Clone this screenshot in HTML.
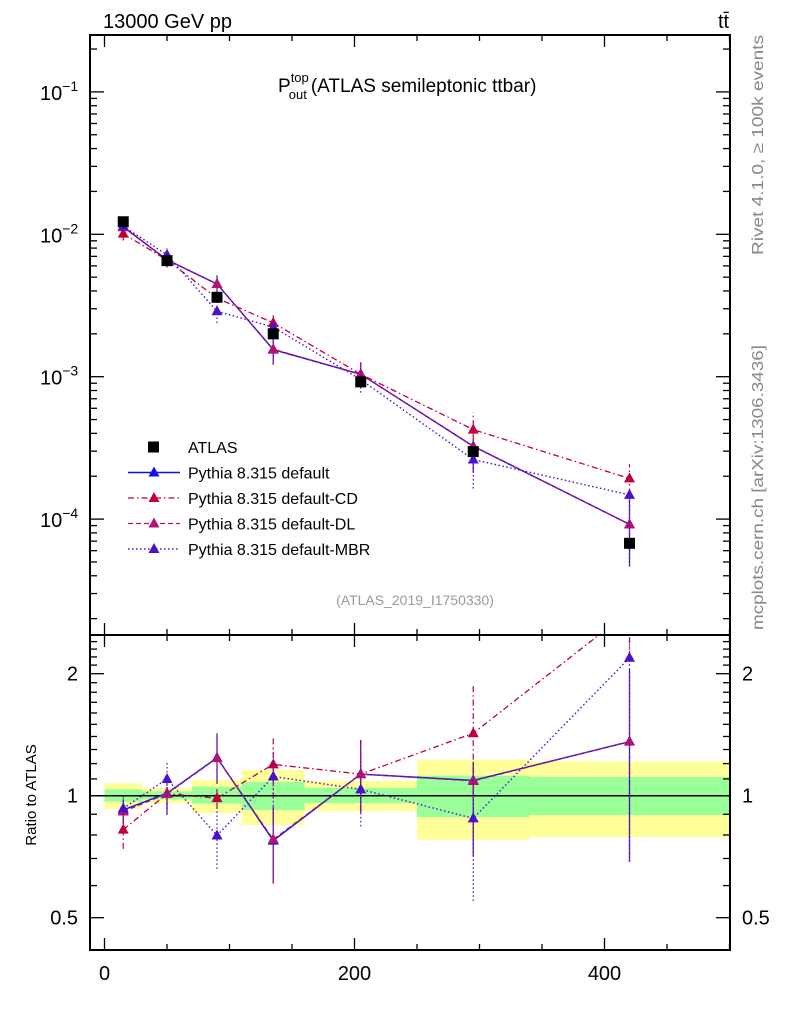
<!DOCTYPE html>
<html><head><meta charset="utf-8"><style>
body{margin:0;background:#fff}
svg{display:block;font-family:"Liberation Sans",sans-serif}
</style></head><body>
<svg id="chart" width="786" height="1024" viewBox="0 0 786 1024">
<text x="103" y="28" font-size="20">13000 GeV pp</text>
<text x="718" y="28" font-size="20">tt̄</text>
<text x="278" y="92" font-size="19">P<tspan font-size="13" dy="-10">top</tspan><tspan font-size="13" dx="-20" dy="17">out</tspan><tspan dy="-7" dx="4">(ATLAS semileptonic ttbar)</tspan></text>
<text transform="translate(763,255) rotate(-90)" font-size="16" fill="#888" textLength="220" lengthAdjust="spacingAndGlyphs">Rivet 4.1.0, ≥ 100k events</text>
<text transform="translate(763,630) rotate(-90)" font-size="16" fill="#888" textLength="285" lengthAdjust="spacingAndGlyphs">mcplots.cern.ch [arXiv:1306.3436]</text>
<text x="415" y="605" font-size="14" fill="#999" text-anchor="middle">(ATLAS_2019_I1750330)</text>
<text transform="translate(36,795) rotate(-90)" font-size="15" text-anchor="middle">Ratio to ATLAS</text>
<g id="g"></g>
</svg>
<script>
const binEdges=[0,30,70,110,160,250,340,500];
const xCenters=[15,50,90,135,205,295,420];
const dataVals=[1.225e-2,6.53e-3,3.61e-3,2.0e-3,9.2e-4,2.98e-4,6.76e-5];
const bandOuterLo=[0.927,0.959,0.906,0.847,0.917,0.779,0.79];
const bandOuterHi=[1.073,1.045,1.093,1.157,1.087,1.227,1.215];
const bandInnerLo=[0.966,0.979,0.956,0.922,0.959,0.886,0.896];
const bandInnerHi=[1.037,1.025,1.052,1.081,1.045,1.12,1.112];
const defVals=[1.13e-2,6.62e-3,4.48e-3,1.55e-3,1.04e-3,3.25e-4,9.19e-5];
const defErrLo=[0.85,0.896,1.07,0.607,0.908,0.71,0.687];
const defErrHi=[0.98,1.05,1.425,0.94,1.372,1.213,2.05];
const cdVals=[1.01e-2,6.6e-3,3.56e-3,2.39e-3,1.04e-3,4.25e-4,1.93e-4];
const cdErrLo=[0.739,0.93,0.93,0.985,0.908,0.975,2.2];
const cdErrHi=[0.887,1.08,1.05,1.41,1.372,1.89,3.6];
const dlVals=[1.12e-2,6.6e-3,4.47e-3,1.56e-3,1.04e-3,3.24e-4,9.2e-5];
const dlErrLo=[0.85,0.896,1.07,0.607,0.908,0.71,0.687];
const dlErrHi=[0.98,1.05,1.425,0.94,1.372,1.213,2.05];
const mbrVals=[1.14e-2,7.18e-3,2.88e-3,2.23e-3,9.54e-4,2.62e-4,1.48e-4];
const mbrErrLo=[0.86,0.93,0.66,0.86,0.84,0.55,0.687];
const mbrErrHi=[1.0,1.22,0.94,1.3,1.25,1.21,2.46];
const mainTickLabels=["-1","-2","-3","-4"];
const xTickLabels=["0","200","400"];
const ratioTickLabels=["2","1","0.5"];

const NS="http://www.w3.org/2000/svg";
const G=document.getElementById('g');
const L=90,R=730,MT=35,MB=635,RB=950;
const xs=v=>104.5+(v)*1.25;
const ym=v=>234.3-(Math.log10(v)+2)*142.4;
const yr=v=>795.7-Math.log2(v)*122;
function mk(tag,at,parent){const e=document.createElementNS(NS,tag);for(const k in at)e.setAttribute(k,at[k]);(parent||G).appendChild(e);return e;}

for(let i=0;i<7;i++){
 const b1=mk('rect',{x:xs(binEdges[i]),y:yr(bandOuterHi[i]),width:xs(binEdges[i+1])-xs(binEdges[i]),height:yr(bandOuterLo[i])-yr(bandOuterHi[i]),fill:'#ffff99'});
 
 
 const b2=mk('rect',{x:xs(binEdges[i]),y:yr(bandInnerHi[i]),width:xs(binEdges[i+1])-xs(binEdges[i]),height:yr(bandInnerLo[i])-yr(bandInnerHi[i]),fill:'#99ff99'});
 
 
}
const one=mk('line',{x1:L,x2:R,y1:yr(1),y2:yr(1),stroke:'#000','stroke-width':1.5});



const defs=mk('defs',{});
const c1=mk('clipPath',{id:'cm'},defs);mk('rect',{x:L,y:MT,width:R-L,height:MB-MT},c1);
const c2=mk('clipPath',{id:'cr'},defs);mk('rect',{x:L,y:MB,width:R-L,height:RB-MB},c2);
const gm=mk('g',{'clip-path':'url(#cm)'});
const gr=mk('g',{'clip-path':'url(#cr)'});

const series=[
 {name:'default',vals:defVals,lo:defErrLo,hi:defErrHi,col:'#1010f0',dash:'',w:1.4},
 {name:'default-cd',vals:cdVals,lo:cdErrLo,hi:cdErrHi,col:'#c0003c',dash:'6,3,1.5,3',w:1.3},
 {name:'default-dl',vals:dlVals,lo:dlErrLo,hi:dlErrHi,col:'#b4146e',dash:'5,3',w:1.3},
 {name:'default-mbr',vals:mbrVals,lo:mbrErrLo,hi:mbrErrHi,col:'#4a10d0',dash:'1.5,2.5',w:1.4}
];
function tri(par,x,y,col){return mk('path',{d:`M${x},${y-6}L${x+5.5},${y+4}L${x-5.5},${y+4}Z`,fill:col},par);}
series.forEach(s=>{
 const ratio=s.vals.map((v,i)=>v/dataVals[i]);
 let pts=s.vals.map((v,i)=>xs(xCenters[i])+','+ym(v)).join(' ');
 const pl=mk('polyline',{points:pts,fill:'none',stroke:s.col,'stroke-width':s.w,'stroke-dasharray':s.dash},gm);
 
 
 s.vals.forEach((v,i)=>{
  const x=xs(xCenters[i]);
  const lo=v*s.lo[i]/ratio[i],hi=v*s.hi[i]/ratio[i];
  const e=mk('line',{x1:x,x2:x,y1:ym(lo),y2:ym(hi),stroke:s.col,'stroke-width':1.2,'stroke-dasharray':s.dash},gm);
  
  
  const t=tri(gm,x,ym(v),s.col);
  
  
 });
 pts=ratio.map((r,i)=>xs(xCenters[i])+','+yr(r)).join(' ');
 const rl=mk('polyline',{points:pts,fill:'none',stroke:s.col,'stroke-width':s.w,'stroke-dasharray':s.dash},gr);
 
 
 ratio.forEach((r,i)=>{
  const x=xs(xCenters[i]);
  const e=mk('line',{x1:x,x2:x,y1:yr(s.lo[i]),y2:yr(s.hi[i]),stroke:s.col,'stroke-width':1.2,'stroke-dasharray':s.dash},gr);
  
  
  const t=tri(gr,x,yr(r),s.col);
  
  
 });
});
dataVals.forEach((v,i)=>{
 const sq=mk('rect',{x:xs(xCenters[i])-5.5,y:ym(v)-5.5,width:11,height:11,fill:'#000'},gm);
 
 
});
[[MT,MB],[MB,RB]].forEach(([t,b])=>{const f=mk('rect',{x:L,y:t,width:R-L,height:b-t,fill:'none',stroke:'#000','stroke-width':2});
 
 });
for(let v=0;v<=500;v+=50){
 const x=xs(v),len=(v%200===0)?12:6;
 [[MT,1],[MB,-1],[MB,1],[RB,-1]].forEach(([y,d])=>mk('line',{x1:x,x2:x,y1:y,y2:y+d*len,stroke:'#000','stroke-width':1.3}));
}
xTickLabels.forEach(l=>{const t=mk('text',{x:xs(+l),y:980,'font-size':20,'text-anchor':'middle'});t.textContent=l;
 
 });
for(let e=-5;e<=-1;e++){for(let m=1;m<10;m++){const v=m*Math.pow(10,e),y=ym(v);if(y<MT||y>MB)continue;
 const len=m===1?14:7;
 mk('line',{x1:L,x2:L+len,y1:y,y2:y,stroke:'#000','stroke-width':1.3});
 mk('line',{x1:R,x2:R-len,y1:y,y2:y,stroke:'#000','stroke-width':1.3});}}
mainTickLabels.forEach(l=>{const y=ym(Math.pow(10,+l));const t=mk('text',{x:40,y:y+8,'font-size':20});
 t.textContent='10';const s=mk('tspan',{'font-size':14,dy:-9},t);s.textContent=l.replace('-','−');
 
 });
for(let k=5;k<=24;k++){const v=k/10,y=yr(v);const len=(k===5||k===10||k===20)?14:7;
 mk('line',{x1:L,x2:L+len,y1:y,y2:y,stroke:'#000','stroke-width':1.3});
 mk('line',{x1:R,x2:R-len,y1:y,y2:y,stroke:'#000','stroke-width':1.3});}
ratioTickLabels.forEach(l=>{const y=yr(+l)+7;
 const t=mk('text',{x:78,y:y,'font-size':20,'text-anchor':'end'});t.textContent=l;
 
 
 const t2=mk('text',{x:742,y:y,'font-size':20});t2.textContent=l;
 
 });
const leg=[['ATLAS',null],['Pythia 8.315 default',series[0]],['Pythia 8.315 default-CD',series[1]],['Pythia 8.315 default-DL',series[2]],['Pythia 8.315 default-MBR',series[3]]];
leg.forEach(([name,s],i)=>{const y=447+i*25.5;
 const g=mk('g',{});
 
 if(!s){mk('rect',{x:148,y:y-5.5,width:11,height:11,fill:'#000'},g);}
 else{mk('line',{x1:128,x2:180,y1:y,y2:y,stroke:s.col,'stroke-width':s.w,'stroke-dasharray':s.dash},g);tri(g,154,y,s.col);}
 const t=mk('text',{x:188,y:y+6,'font-size':16},g);t.textContent=name;});
</script>
</body></html>
